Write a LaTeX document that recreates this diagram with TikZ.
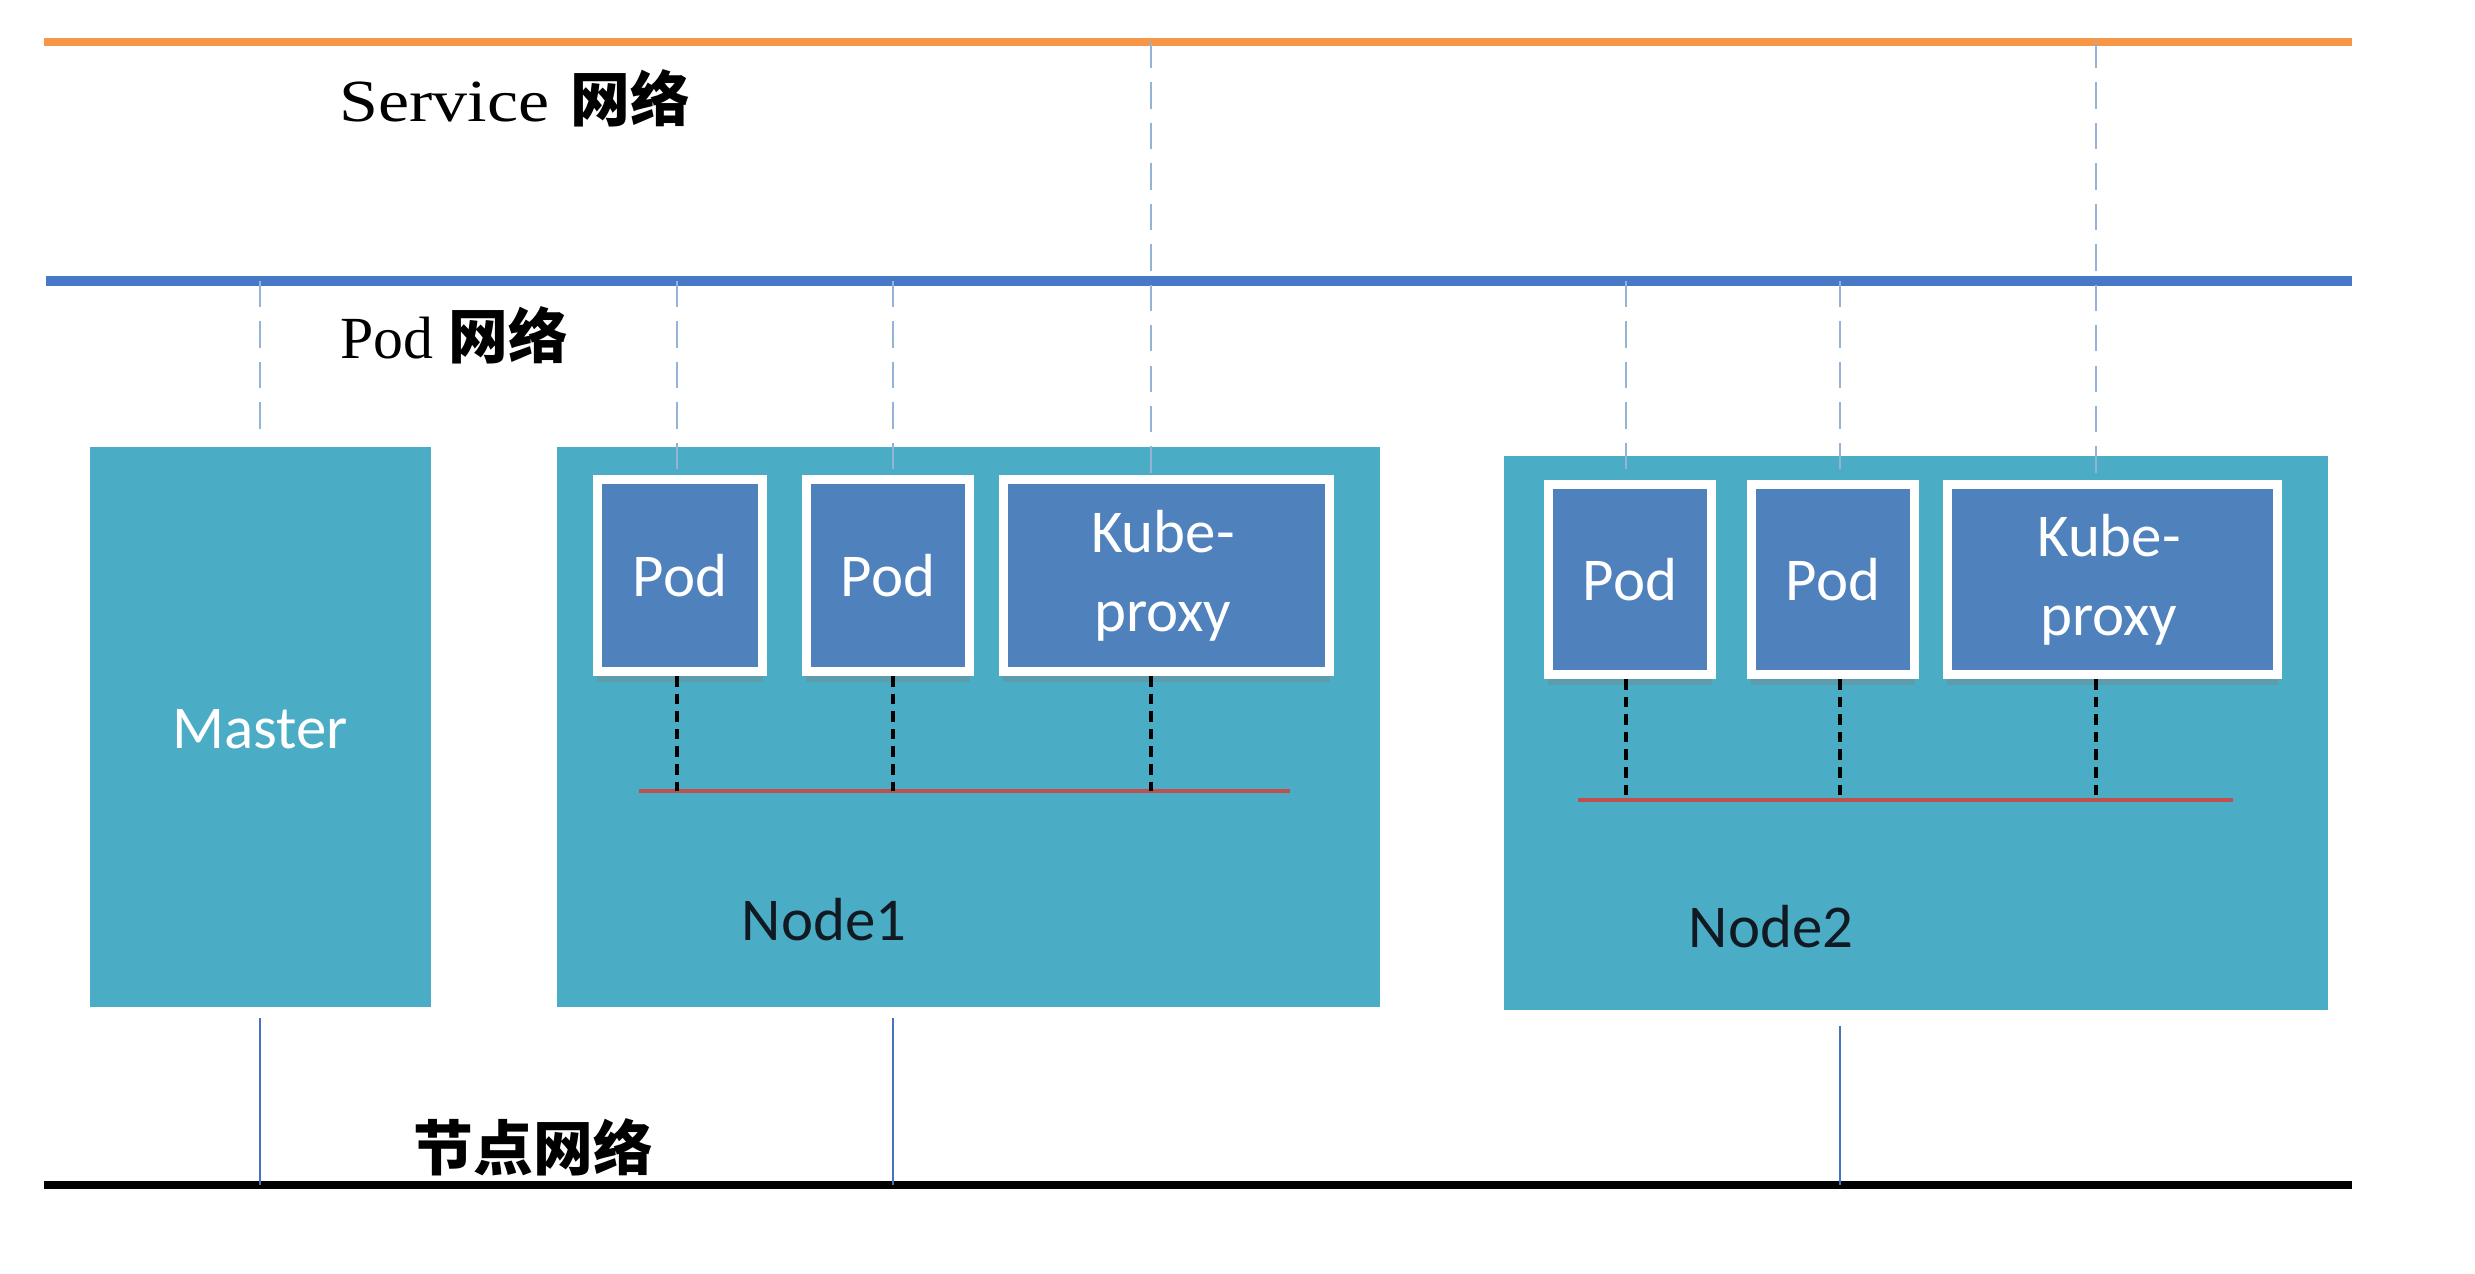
\documentclass[tikz,border=0pt]{standalone}
\usepackage{fontspec}
\setmainfont{Liberation Serif}
\newfontfamily\cjk{Noto Sans CJK SC}
\newfontfamily\lab{Carlito}
\usetikzlibrary{shadows}
\definecolor{svcorange}{HTML}{F79646}
\definecolor{podnet}{HTML}{4A78C8}
\definecolor{tealbox}{HTML}{4BACC6}
\definecolor{podfill}{HTML}{4F81BD}
\definecolor{lightdash}{HTML}{95B3D7}
\definecolor{redline}{HTML}{C0504D}
\definecolor{thinblue}{HTML}{4472C4}
\definecolor{darklab}{HTML}{111A22}
\tikzset{
  hostbox/.style={fill=tealbox, draw=none, inner sep=0pt},
  podbox/.style={fill=podfill, draw=white, line width=2.6pt, inner sep=0pt,
    drop shadow={shadow xshift=0pt, shadow yshift=-3pt, opacity=0.35}},
  boxtext/.style={text=white, font=\lab\fontsize{17.3}{22.5}\selectfont, align=center},
  hosttext/.style={text=darklab, font=\lab\fontsize{17.3}{22.5}\selectfont},
  nettext/.style={anchor=west, text=black, font=\fontsize{17}{20}\selectfont, inner sep=0pt},
  svcnet/.style={draw=svcorange, line width=2.3pt},
  podnetline/.style={draw=podnet, line width=2.8pt},
  hostnet/.style={draw=black, line width=2.3pt},
  lightlink/.style={draw=lightdash, line width=0.7pt, dash pattern=on 7.5pt off 4pt},
  blacklink/.style={draw=black, line width=0.9pt, dash pattern=on 3pt off 2pt},
  bridge/.style={draw=redline, line width=0.9pt},
  hostlink/.style={draw=thinblue, line width=0.7pt}
}
\begin{document}
\begin{tikzpicture}[x=0.01cm,y=-0.01cm]
\useasboundingbox (0,0) rectangle (2475,1274);
% networks
\coordinate (svcL) at (44,42);
\coordinate (svcR) at (2352,42);
\coordinate (podL) at (46,281);
\coordinate (podR) at (2352,281);
\coordinate (hostL) at (44,1185);
\coordinate (hostR) at (2352,1185);
\draw[svcnet] (svcL) -- (svcR);
\draw[podnetline] (podL) -- (podR);
\draw[hostnet] (hostL) -- (hostR);
\node[nettext] (svclab) at (339,98) {\scalebox{1.17}[1]{Service}\hspace{0.35em}{\cjk\bfseries 网络}};
\node[nettext] (podlab) at (340,335) {Pod {\cjk\bfseries 网络}};
\node[nettext] (hostlab) at (413,1147) {\cjk\bfseries 节点网络};
% host boxes
\node[hostbox, minimum width=3.41cm, minimum height=5.60cm] (master) at (260.5,727) {};
\node[hostbox, minimum width=8.23cm, minimum height=5.60cm] (node1) at (968.5,727) {};
\node[hostbox, minimum width=8.24cm, minimum height=5.54cm] (node2) at (1916,733) {};
\node[boxtext] (mastertxt) at (260,729) {Master};
\node[hosttext] (node1txt) at (824,920) {Node1};
\node[hosttext] (node2txt) at (1771,927) {Node2};
% pods node1
\node[podbox, minimum width=1.65cm, minimum height=1.92cm] (p1) at (680,575.5) {};
\node[podbox, minimum width=1.63cm, minimum height=1.92cm] (p2) at (888,575.5) {};
\node[podbox, minimum width=3.26cm, minimum height=1.92cm] (k1) at (1166.5,575.5) {};
\node[boxtext] at (p1) {Pod};
\node[boxtext] at (p2) {Pod};
\node[boxtext] at (1163,576) {Kube-\\proxy};
% pods node2
\node[podbox, minimum width=1.63cm, minimum height=1.90cm] (p3) at (1630,579.5) {};
\node[podbox, minimum width=1.63cm, minimum height=1.90cm] (p4) at (1833,579.5) {};
\node[podbox, minimum width=3.30cm, minimum height=1.90cm] (k2) at (2112.5,579.5) {};
\node[boxtext] at (p3) {Pod};
\node[boxtext] at (p4) {Pod};
\node[boxtext] at (2109,580) {Kube-\\proxy};
% link anchors
\coordinate (m0) at (260,281);
\coordinate (m1) at (260,434);
\coordinate (a1) at (677,281);
\coordinate (a2) at (893,281);
\coordinate (a3) at (1151,42);
\coordinate (b1) at (1626,281);
\coordinate (b2) at (1840,281);
\coordinate (b3) at (2096,42);
% light dashed links from networks
\draw[lightlink] (m0) -- (m1);
\draw[lightlink] (a1) -- (a1 |- p1.north);
\draw[lightlink] (a2) -- (a2 |- p2.north);
\draw[lightlink] (a3) -- (a3 |- k1.north);
\draw[lightlink] (b1) -- (b1 |- p3.north);
\draw[lightlink] (b2) -- (b2 |- p4.north);
\draw[lightlink] (b3) -- (b3 |- k2.north);
% bridges
\coordinate (r1L) at (639,791);
\coordinate (r1R) at (1290,791);
\coordinate (r2L) at (1578,800);
\coordinate (r2R) at (2233,800);
\draw[bridge] (r1L) -- (r1R);
\draw[bridge] (r2L) -- (r2R);
\draw[blacklink] (a1 |- p1.south) -- (a1 |- r1L);
\draw[blacklink] (a2 |- p2.south) -- (a2 |- r1L);
\draw[blacklink] (a3 |- k1.south) -- (a3 |- r1L);
\draw[blacklink] (b1 |- p3.south) -- (b1 |- r2L);
\draw[blacklink] (b2 |- p4.south) -- (b2 |- r2L);
\draw[blacklink] (b3 |- k2.south) -- (b3 |- r2L);
% host links
\coordinate (h1) at (260,1018);
\coordinate (h2) at (893,1018);
\coordinate (h3) at (1840,1026);
\draw[hostlink] (h1) -- (h1 |- hostL);
\draw[hostlink] (h2) -- (h2 |- hostL);
\draw[hostlink] (h3) -- (h3 |- hostL);
\end{tikzpicture}
\end{document}
